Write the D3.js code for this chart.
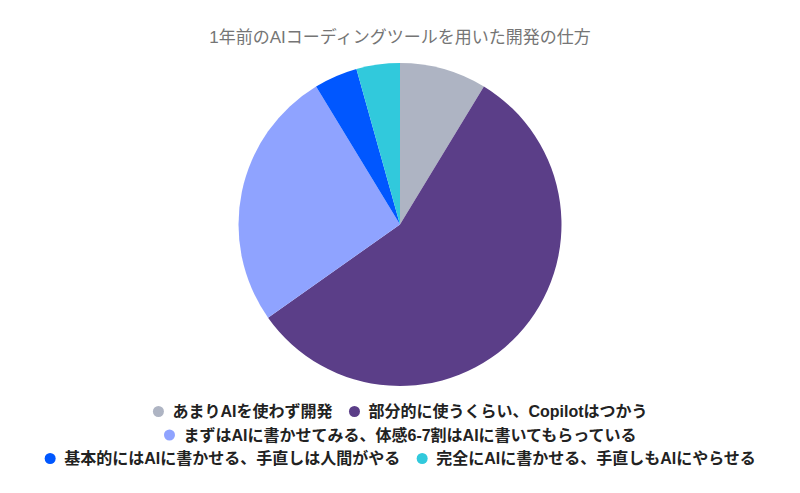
<!DOCTYPE html>
<html>
<head>
<meta charset="utf-8">
<script src="https://cdn.jsdelivr.net/npm/d3@7/dist/d3.min.js"></script>
<style>
  body { margin: 0; background: #fff; }
  svg { display: block; font-family: "Liberation Sans", Arial, "Noto Sans CJK JP", sans-serif; }
</style>
</head>
<body>
<div id="chart"></div>
<script>
'use strict';

var title = "1年前のAIコーディングツールを用いた開発の仕方";
var categories = [
  "あまりAIを使わず開発",
  "部分的に使うくらい、Copilotはつかう",
  "まずはAIに書かせてみる、体感6-7割はAIに書いてもらっている",
  "基本的にはAIに書かせる、手直しは人間がやる",
  "完全にAIに書かせる、手直しもAIにやらせる"
];
var counts = [2, 13, 6, 1, 1];
var colors = ["#aeb4c3", "#5b3e88", "#8fa3ff", "#0057ff", "#31c9dc"];

var width = 800, height = 493;
var cx = 400, cy = 224.5, radius = 161.5;

var svg = d3.select("#chart")
  .append("svg")
  .attr("width", width)
  .attr("height", height);

svg.append("text")
  .attr("x", width / 2)
  .attr("y", 43)
  .attr("text-anchor", "middle")
  .attr("fill", "#757575")
  .style("font-size", "17px")
  .text(title);

//pie slices, clockwise from 12 o'clock
var pie = d3.pie().sort(null).value(d => d);
var arc = d3.arc().innerRadius(0).outerRadius(radius);

var g = svg.append("g").attr("transform", "translate(" + cx + "," + cy + ")");
g.selectAll("path")
  .data(pie(counts))
  .enter().append("path")
  .attr("d", arc)
  .attr("fill", (d, i) => colors[i]);

//legend, wrapped into centered rows
var legend = svg.append("g");
var items = categories.map(function(c, i) {
  var it = legend.append("g");
  it.append("circle").attr("cx", 6).attr("cy", -5.5).attr("r", 5.5).attr("fill", colors[i]);
  var t = it.append("text")
    .attr("x", 20)
    .attr("fill", "#222")
    .style("font-size", "16px")
    .style("font-weight", "bold")
    .text(c);
  return {node: it, w: 20 + t.node().getComputedTextLength()};
});

var maxW = 720, gap = 16, rowH = 23.5, y0 = 417;
var rows = [[]], rw = 0;
items.forEach(function(it) {
  var row = rows[rows.length - 1];
  var need = row.length ? rw + gap + it.w : it.w;
  if (row.length && need > maxW) {
    rows.push([it]);
    rw = it.w;
  } else {
    row.push(it);
    rw = need;
  }
});

rows.forEach(function(row, r) {
  var total = d3.sum(row, d => d.w) + gap * (row.length - 1);
  var x = (width - total) / 2;
  row.forEach(function(it) {
    it.node.attr("transform", "translate(" + x + "," + (y0 + r * rowH) + ")");
    x += it.w + gap;
  });
});
</script>
</body>
</html>
